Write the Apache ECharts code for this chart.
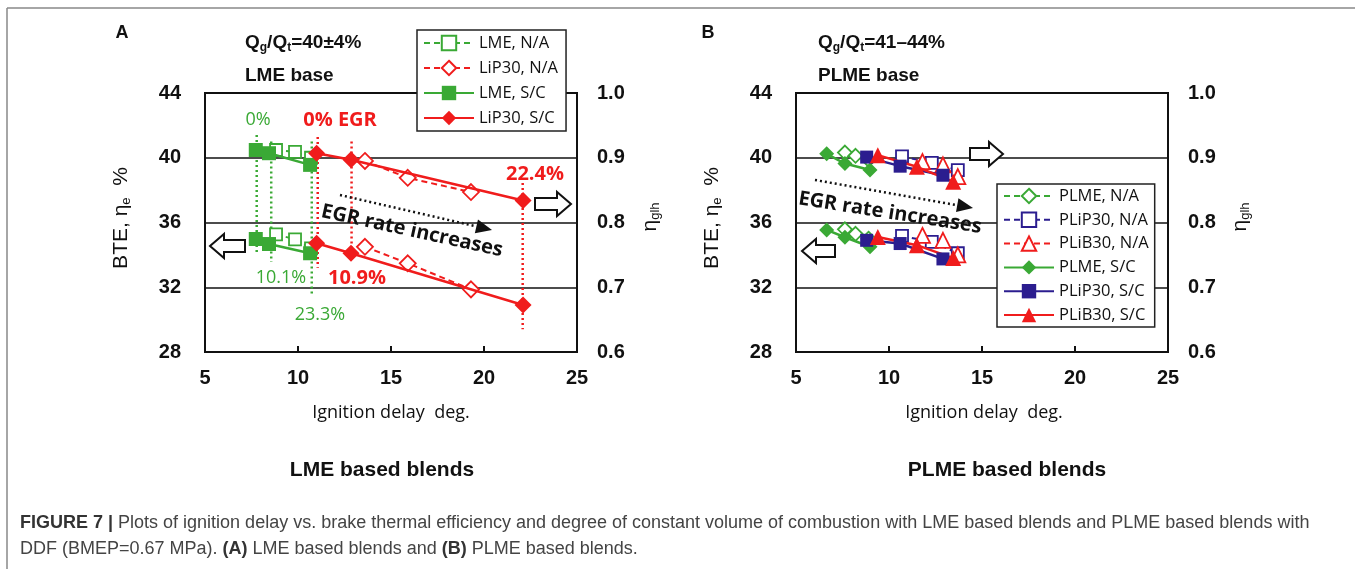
<!DOCTYPE html>
<html>
<head>
<meta charset="utf-8">
<script src="https://cdn.jsdelivr.net/npm/echarts@6/dist/echarts.min.js"></script>
<style>
  html, body { margin: 0; padding: 0; background: #fff; }
  #chart { width: 1355px; height: 569px; }
</style>
</head>
<body>
<div id="chart"></div>
<script>
// colours
var GREEN = '#3aa935', RED = '#f01c1c', NAVY = '#2b1d8f';

// axis ticks
var xTicks = [5, 25, 5];          // min, max, step
var bteTicks = [28, 44, 4];
var etaTicks = [0.6, 1.0, 0.1];

// ---- panel A: LME based blends ----
var lmeNA_x = [8.82, 9.84, 10.7];
var lmeNA_eta = [0.912, 0.909, 0.900];
var lmeNA_bte = [35.27, 34.96, 34.4];

var lip30NA_x = [13.6, 15.9, 19.3];
var lip30NA_eta = [0.895, 0.869, 0.847];
var lip30NA_bte = [34.5, 33.48, 31.87];

var lmeSC_x = [7.73, 8.44, 10.65];
var lmeSC_eta = [0.912, 0.907, 0.889];
var lmeSC_bte = [34.98, 34.67, 34.10];

var lip30SC_x = [11.0, 12.85, 22.1];
var lip30SC_eta = [0.907, 0.897, 0.834];
var lip30SC_bte = [34.72, 34.10, 30.90];

// EGR guide lines: x, top, bottom (BTE units)
var guideA_green = [[7.78, 41.4, 34.0], [8.56, 41.0, 33.56], [10.74, 41.0, 31.5]];
var guideA_red = [[11.06, 41.28, 33.2], [12.88, 41.0, 33.9], [22.08, 38.44, 29.4]];

// ---- panel B: PLME based blends ----
var plmeNA_x = [7.63, 8.2, 8.9];
var plmeNA_eta = [0.908, 0.903, 0.897];
var plmeNA_bte = [35.58, 35.3, 35.0];

var plip30NA_x = [10.7, 12.3, 13.7];
var plip30NA_eta = [0.902, 0.892, 0.881];
var plip30NA_bte = [35.17, 34.8, 34.1];

var plib30NA_x = [11.8, 12.9, 13.7];
var plib30NA_eta = [0.894, 0.889, 0.871];
var plib30NA_bte = [35.2, 34.9, 34.0];

var plmeSC_x = [6.65, 7.63, 8.98];
var plmeSC_eta = [0.906, 0.891, 0.881];
var plmeSC_bte = [35.54, 35.09, 34.5];

var plip30SC_x = [8.8, 10.6, 12.9];
var plip30SC_eta = [0.901, 0.887, 0.873];
var plip30SC_bte = [34.9, 34.7, 33.75];

var plib30SC_x = [9.4, 11.5, 13.45];
var plib30SC_eta = [0.904, 0.886, 0.863];
var plib30SC_bte = [35.1, 34.6, 33.8];

var legendA = ['LME, N/A', 'LiP30, N/A', 'LME, S/C', 'LiP30, S/C'];
var legendB = ['PLME, N/A', 'PLiP30, N/A', 'PLiB30, N/A', 'PLME, S/C', 'PLiP30, S/C', 'PLiB30, S/C'];

var chart = echarts.init(document.getElementById('chart'));

function zip(xs, ys) {
  return xs.map(function (x, i) { return [x, ys[i]]; });
}

// one line series; open = hollow marker with dashed line
function ser(name, grid, eta, xs, ys, color, symbol, size, open) {
  return {
    name: name,
    type: 'line',
    xAxisIndex: grid,
    yAxisIndex: grid * 2 + (eta ? 1 : 0),
    data: zip(xs, ys),
    symbol: symbol,
    symbolSize: size,
    showAllSymbol: true,
    animation: false,
    lineStyle: { color: color, width: open ? 2 : 2.5, type: open ? [6, 4] : 'solid' },
    itemStyle: open ? { color: '#fff', borderColor: color, borderWidth: 1.8 } : { color: color },
    z: open ? 3 : 4
  };
}

function guides(list, color) {
  return list.map(function (g) {
    return {
      type: 'line', xAxisIndex: 0, yAxisIndex: 0, silent: true, animation: false,
      data: [[g[0], g[1]], [g[0], g[2]]], symbol: 'none',
      lineStyle: { color: color, width: 2.5, type: [2, 3] }, z: 2
    };
  });
}

var series = [].concat(
  guides(guideA_green, GREEN),
  guides(guideA_red, RED),
  [
    ser('LME, N/A', 0, true, lmeNA_x, lmeNA_eta, GREEN, 'rect', 12, true),
    ser('LME, N/A', 0, false, lmeNA_x, lmeNA_bte, GREEN, 'rect', 12, true),
    ser('LiP30, N/A', 0, true, lip30NA_x, lip30NA_eta, RED, 'diamond', 16, true),
    ser('LiP30, N/A', 0, false, lip30NA_x, lip30NA_bte, RED, 'diamond', 16, true),
    ser('LME, S/C', 0, true, lmeSC_x, lmeSC_eta, GREEN, 'rect', 14, false),
    ser('LME, S/C', 0, false, lmeSC_x, lmeSC_bte, GREEN, 'rect', 14, false),
    ser('LiP30, S/C', 0, true, lip30SC_x, lip30SC_eta, RED, 'diamond', 17, false),
    ser('LiP30, S/C', 0, false, lip30SC_x, lip30SC_bte, RED, 'diamond', 17, false),

    ser('PLME, N/A', 1, true, plmeNA_x, plmeNA_eta, GREEN, 'diamond', 14, true),
    ser('PLME, N/A', 1, false, plmeNA_x, plmeNA_bte, GREEN, 'diamond', 14, true),
    ser('PLiP30, N/A', 1, true, plip30NA_x, plip30NA_eta, NAVY, 'rect', 12, true),
    ser('PLiP30, N/A', 1, false, plip30NA_x, plip30NA_bte, NAVY, 'rect', 12, true),
    ser('PLiB30, N/A', 1, true, plib30NA_x, plib30NA_eta, RED, 'triangle', 15, true),
    ser('PLiB30, N/A', 1, false, plib30NA_x, plib30NA_bte, RED, 'triangle', 15, true),
    ser('PLME, S/C', 1, true, plmeSC_x, plmeSC_eta, GREEN, 'diamond', 15, false),
    ser('PLME, S/C', 1, false, plmeSC_x, plmeSC_bte, GREEN, 'diamond', 15, false),
    ser('PLiP30, S/C', 1, true, plip30SC_x, plip30SC_eta, NAVY, 'rect', 13, false),
    ser('PLiP30, S/C', 1, false, plip30SC_x, plip30SC_bte, NAVY, 'rect', 13, false),
    ser('PLiB30, S/C', 1, true, plib30SC_x, plib30SC_eta, RED, 'triangle', 16, false),
    ser('PLiB30, S/C', 1, false, plib30SC_x, plib30SC_bte, RED, 'triangle', 16, false)
  ]
);

var tickFont = { fontFamily: 'Liberation Sans', fontSize: 20, fontWeight: 'bold', color: '#111' };

function xAx(grid) {
  return {
    type: 'value', gridIndex: grid, min: xTicks[0], max: xTicks[1], interval: xTicks[2],
    axisLine: { lineStyle: { color: '#111', width: 2 } },
    axisTick: { inside: true, length: 6, lineStyle: { color: '#111', width: 2 } },
    axisLabel: Object.assign({ margin: 16 }, tickFont),
    splitLine: { show: false }
  };
}
function yLeft(grid) {
  return {
    type: 'value', gridIndex: grid, position: 'left', min: bteTicks[0], max: bteTicks[1], interval: bteTicks[2],
    axisLine: { show: true, lineStyle: { color: '#111', width: 2 } },
    axisTick: { show: false },
    axisLabel: Object.assign({ margin: 24 }, tickFont),
    splitLine: { show: true, lineStyle: { color: '#111', width: 1.5 } }
  };
}
function yRight(grid) {
  return {
    type: 'value', gridIndex: grid, position: 'right', min: etaTicks[0], max: etaTicks[1], interval: etaTicks[2],
    axisLine: { show: true, lineStyle: { color: '#111', width: 2 } },
    axisTick: { show: false },
    axisLabel: Object.assign({ margin: 20, formatter: function (v) { return v.toFixed(1); } }, tickFont),
    splitLine: { show: false }
  };
}

var legendStyle = {
  orient: 'vertical', itemWidth: 50, itemHeight: 18, itemGap: 5,
  backgroundColor: '#fff', borderColor: '#222', borderWidth: 1.5, borderRadius: 0,
  textStyle: { fontFamily: 'Open Sans', fontSize: 16.5, color: '#111', lineHeight: 20 },
  selectedMode: false
};

function txt(x, y, text, opt) {
  opt = opt || {};
  return {
    type: 'text', x: x, y: y, rotation: opt.rot || 0, z: 20, silent: true,
    style: {
      text: text, fill: opt.color || '#111',
      font: (opt.bold ? 'bold ' : '') + (opt.size || 19) + 'px ' + (opt.family || '"Liberation Sans"'),
      align: opt.align || 'center', verticalAlign: 'middle', rich: opt.rich
    }
  };
}

function hollowArrow(x0, x1, yc, dir) {
  // dir 1 = points right
  var hw = 14, bh = 6, hh = 12, pts;
  if (dir > 0) {
    pts = [[x0, yc - bh], [x1 - hw, yc - bh], [x1 - hw, yc - hh], [x1, yc], [x1 - hw, yc + hh], [x1 - hw, yc + bh], [x0, yc + bh]];
  } else {
    pts = [[x1, yc - bh], [x0 + hw, yc - bh], [x0 + hw, yc - hh], [x0, yc], [x0 + hw, yc + hh], [x0 + hw, yc + bh], [x1, yc + bh]];
  }
  return { type: 'polygon', z: 20, silent: true, shape: { points: pts }, style: { fill: '#fff', stroke: '#111', lineWidth: 2 } };
}

function dottedArrow(x0, y0, x1, y1) {
  var a = Math.atan2(y1 - y0, x1 - x0), L = 16, W = 7;
  var bx = x1 - L * Math.cos(a), by = y1 - L * Math.sin(a);
  return [
    { type: 'line', z: 20, silent: true, shape: { x1: x0, y1: y0, x2: bx, y2: by }, style: { stroke: '#111', lineWidth: 2.5, lineDash: [2, 3] } },
    { type: 'polygon', z: 20, silent: true, shape: { points: [[x1, y1], [bx - W * Math.sin(a), by + W * Math.cos(a)], [bx + W * Math.sin(a), by - W * Math.cos(a)]] }, style: { fill: '#111' } }
  ];
}

var subRich = function (size) {
  return {
    a: { font: 'bold ' + size + 'px "Liberation Sans"', fill: '#111' },
    s: { font: 'bold ' + Math.round(size * 0.62) + 'px "Liberation Sans"', fill: '#111', padding: [Math.round(size * 0.5), 0, 0, 0] }
  };
};
var nameRich = {
  a: { font: '21px "Liberation Sans"', fill: '#111' },
  s: { font: '13px "Liberation Sans"', fill: '#111', padding: [10, 0, 0, 0] }
};

var captionRich = {
  b: { font: 'bold 18px "Liberation Sans Narrow", "Liberation Sans"', fill: '#333' },
  n: { font: '18px "Liberation Sans Narrow", "Liberation Sans"', fill: '#444' }
};

var graphics = [
  { type: 'line', shape: { x1: 7, y1: 8, x2: 1355, y2: 8 }, style: { stroke: '#888', lineWidth: 1.5 } },
  { type: 'line', shape: { x1: 7, y1: 8, x2: 7, y2: 569 }, style: { stroke: '#888', lineWidth: 1.5 } },

  // panel A
  txt(122, 33, 'A', { bold: true, size: 18 }),
  txt(245, 43, '{a|Q}{s|g}{a|/Q}{s|t}{a|=40±4%}', { align: 'left', rich: subRich(19) }),
  txt(245, 76, 'LME base', { bold: true, align: 'left' }),
  txt(258, 120, '0%', { color: GREEN, size: 18, family: '"Open Sans"' }),
  txt(340, 120, '0% EGR', { color: RED, bold: true, size: 20, family: '"Open Sans"' }),
  txt(535, 174, '22.4%', { color: RED, bold: true, size: 20, family: '"Open Sans"' }),
  txt(281, 278, '10.1%', { color: GREEN, size: 18, family: '"Open Sans"' }),
  txt(357, 278, '10.9%', { color: RED, bold: true, size: 20, family: '"Open Sans"' }),
  txt(320, 315, '23.3%', { color: GREEN, size: 18, family: '"Open Sans"' }),
  txt(412, 231, 'EGR rate increases', { bold: true, size: 20, family: '"Open Sans"', rot: -0.215 }),
  hollowArrow(535, 571, 204, 1),
  hollowArrow(210, 245, 246, -1),
  txt(121, 218, '{a|BTE, η}{s|e}{a|  %}', { rot: Math.PI / 2, rich: nameRich }),
  txt(650, 217, '{a|η}{s|glh}', { rot: Math.PI / 2, rich: nameRich }),
  txt(391, 413, 'Ignition delay  deg.', { size: 18, family: '"Open Sans"' }),
  txt(382, 470, 'LME based blends', { bold: true, size: 21 }),

  // panel B
  txt(708, 33, 'B', { bold: true, size: 18 }),
  txt(818, 43, '{a|Q}{s|g}{a|/Q}{s|t}{a|=41–44%}', { align: 'left', rich: subRich(19) }),
  txt(818, 76, 'PLME base', { bold: true, align: 'left' }),
  txt(890, 213, 'EGR rate increases', { bold: true, size: 20, family: '"Open Sans"', rot: -0.155 }),
  hollowArrow(970, 1003, 154, 1),
  hollowArrow(802, 835, 251, -1),
  txt(712, 218, '{a|BTE, η}{s|e}{a|  %}', { rot: Math.PI / 2, rich: nameRich }),
  txt(1240, 217, '{a|η}{s|glh}', { rot: Math.PI / 2, rich: nameRich }),
  txt(984, 413, 'Ignition delay  deg.', { size: 18, family: '"Open Sans"' }),
  txt(1007, 470, 'PLME based blends', { bold: true, size: 21 }),

  // caption
  txt(20, 523, '{b|FIGURE 7 | }{n|Plots of ignition delay vs. brake thermal efficiency and degree of constant volume of combustion with LME based blends and PLME based blends with}', { align: 'left', rich: captionRich }),
  txt(20, 549, '{n|DDF (BMEP=0.67 MPa). }{b|(A)}{n| LME based blends and }{b|(B)}{n| PLME based blends.}', { align: 'left', rich: captionRich })
].concat(dottedArrow(340, 195, 492, 230), dottedArrow(815, 180, 973, 208));

chart.setOption({
  animation: false,
  backgroundColor: '#fff',
  grid: [
    { left: 205, top: 93, width: 372, height: 259, show: true, borderColor: '#111', borderWidth: 2, backgroundColor: 'transparent' },
    { left: 796, top: 93, width: 372, height: 259, show: true, borderColor: '#111', borderWidth: 2, backgroundColor: 'transparent' }
  ],
  xAxis: [xAx(0), xAx(1)],
  yAxis: [yLeft(0), yRight(0), yLeft(1), yRight(1)],
  legend: [
    Object.assign({ data: legendA, left: 417, top: 30, padding: [3, 8, 3, 6] }, legendStyle),
    Object.assign({ data: legendB, left: 997, top: 184, padding: [2, 6, 2, 6] }, legendStyle, { itemGap: 3.8 })
  ],
  series: series,
  graphic: graphics
});
</script>
</body>
</html>
